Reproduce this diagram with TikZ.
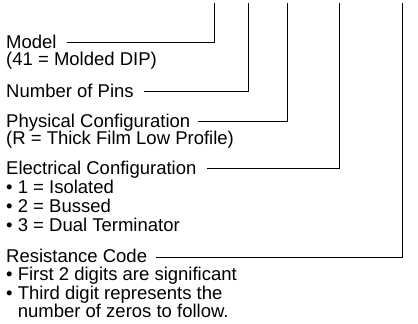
\documentclass[tikz,border=0pt]{standalone}
\usepackage{fontspec}
\setmainfont{Liberation Sans}
\begin{document}
\begin{tikzpicture}[x=1pt,y=-1pt,
  lbl/.style={anchor=base west, inner sep=0pt, font=\fontsize{18.5}{19}\selectfont},
  lead/.style={line width=1pt, black}]
\useasboundingbox (0,0) rectangle (418,324);
\coordinate (t1) at (214,3);
\coordinate (t2) at (248,3);
\coordinate (t3) at (287,3);
\coordinate (t4) at (339,3);
\coordinate (t5) at (402,3);
\node[lbl] (model) at (6,48) {Model};
\node[lbl] (modeld) at (6,65) {(41 = Molded DIP)};
\node[lbl] (pins) at (6,97) {Number of Pins};
\node[lbl] (phys) at (6,127) {Physical Configuration};
\node[lbl] (physd) at (6,144) {(R = Thick Film Low Profile)};
\node[lbl] (elec) at (6,174) {Electrical Configuration};
\node[lbl] (eleca) at (6,193) {• 1 = Isolated};
\node[lbl] (elecb) at (6,212) {• 2 = Bussed};
\node[lbl] (elecc) at (6,231) {• 3 = Dual Terminator};
\node[lbl] (res) at (6,262) {Resistance Code};
\node[lbl] (resa) at (6,280) {• First 2 digits are significant};
\node[lbl] (resb) at (6,299) {• Third digit represents the};
\node[lbl] (resc) at (6,317) {\hphantom{• }number of zeros to follow.};
\draw[lead] ([shift={(10,-6)}]model.base east) -| (t1);
\draw[lead] ([shift={(10,-6)}]pins.base east) -| (t2);
\draw[lead] ([shift={(8,-6)}]phys.base east) -| (t3);
\draw[lead] ([shift={(10,-6)}]elec.base east) -| (t4);
\draw[lead] ([shift={(9,-5)}]res.base east) -| (t5);
\end{tikzpicture}
\end{document}
